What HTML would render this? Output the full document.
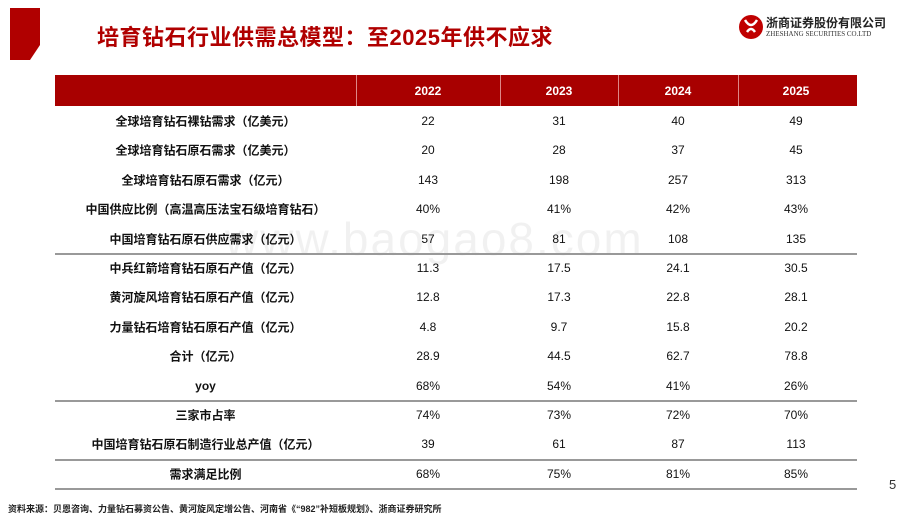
<!DOCTYPE html>
<html><head><meta charset="utf-8">
<style>
body{margin:0;width:920px;height:518px;background:#fff;position:relative;overflow:hidden;font-family:"Liberation Sans","Noto Sans CJK SC",sans-serif;}
.abs{position:absolute}
.cell{position:absolute;text-align:center;font-size:12px;color:#111;transform:translateY(-50%);}
.lab{font-weight:bold;}
</style></head><body>
<svg class="abs" style="left:0;top:0" width="80" height="70"><polygon points="10,8 40,8 40,45 30,60 10,60" fill="#b00000"/></svg>
<div class="abs" style="left:97px;top:20px;font-size:22px;font-weight:bold;color:#b00000;letter-spacing:0.5px">培育钻石行业供需总模型：至2025年供不应求</div>
<div class="abs" style="left:738px;top:12px;width:160px;height:32px">
<svg width="26" height="30" style="position:absolute;left:0;top:0"><circle cx="13" cy="15" r="12" fill="#c00000"/><path d="M7 8 Q13 18 19 8 M9 20 Q13 14 17 20" stroke="#fff" stroke-width="2.5" fill="none"/></svg>
<div style="position:absolute;left:28px;top:2px;font-size:12px;font-weight:bold;color:#222;white-space:nowrap">浙商证券股份有限公司</div>
<div style="position:absolute;left:28px;top:18px;font-size:7px;color:#333;font-family:'Liberation Serif',serif;white-space:nowrap">ZHESHANG SECURITIES CO.LTD</div>
</div>
<div class="abs" style="left:55px;top:75px;width:802px;height:31px;background:#a80000"></div>
<div class="abs" style="left:225px;top:212px;font-size:46px;color:#000;opacity:0.05;letter-spacing:2px">www.baogao8.com</div>
<div id="tbl"></div>
<div class="abs" style="left:889px;top:477px;font-size:13px;color:#333">5</div>
<div class="abs" style="left:8px;top:502px;font-size:9px;font-weight:bold;color:#222">资料来源：贝恩咨询、力量钻石募资公告、黄河旋风定增公告、河南省《“982”补短板规划》、浙商证券研究所</div>
<script>
const years=["2022","2023","2024","2025"];
const labels=["全球培育钻石裸钻需求（亿美元）","全球培育钻石原石需求（亿美元）","全球培育钻石原石需求（亿元）","中国供应比例（高温高压法宝石级培育钻石）","中国培育钻石原石供应需求（亿元）","中兵红箭培育钻石原石产值（亿元）","黄河旋风培育钻石原石产值（亿元）","力量钻石培育钻石原石产值（亿元）","合计（亿元）","yoy","三家市占率","中国培育钻石原石制造行业总产值（亿元）","需求满足比例"];
const values=[["22","31","40","49"],["20","28","37","45"],["143","198","257","313"],["40%","41%","42%","43%"],["57","81","108","135"],["11.3","17.5","24.1","30.5"],["12.8","17.3","22.8","28.1"],["4.8","9.7","15.8","20.2"],["28.9","44.5","62.7","78.8"],["68%","54%","41%","26%"],["74%","73%","72%","70%"],["39","61","87","113"],["68%","75%","81%","85%"]];
const sepAfter=[4,9,11,12];
const t=document.body;
const colX=[428,559,678,796], colB=[356,500,618,738];
function add(html,style,name){const d=document.createElement('div');d.innerHTML=html;d.style.cssText=style;d.className=d.className||'';return d;}
years.forEach((y,i)=>{const d=document.createElement('div');d.className='cell';d.textContent=y;


d.style.cssText=`left:${colX[i]-40}px;width:80px;top:91px;color:#fff;font-weight:bold`;t.appendChild(d);});
colB.forEach(x=>{const d=document.createElement('div');d.className='abs';


d.style.cssText=`left:${x}px;top:75px;width:1px;height:31px;background:#d88`;t.appendChild(d);});
labels.forEach((l,r)=>{const cy=121+r*29.4;
const d=document.createElement('div');d.className='cell lab';d.textContent=l;


d.style.cssText=`left:55px;width:301px;top:${cy}px;white-space:nowrap`;t.appendChild(d);
values[r].forEach((v,i)=>{const c=document.createElement('div');c.className='cell';c.textContent=v;


c.style.cssText=`left:${colX[i]-40}px;width:80px;top:${cy}px`;t.appendChild(c);});
if(sepAfter.includes(r)){const s=document.createElement('div');s.className='abs';


s.style.cssText=`left:55px;width:802px;top:${cy+14.5}px;height:2px;background:#999`;t.appendChild(s);}
});
</script>
</body></html>
